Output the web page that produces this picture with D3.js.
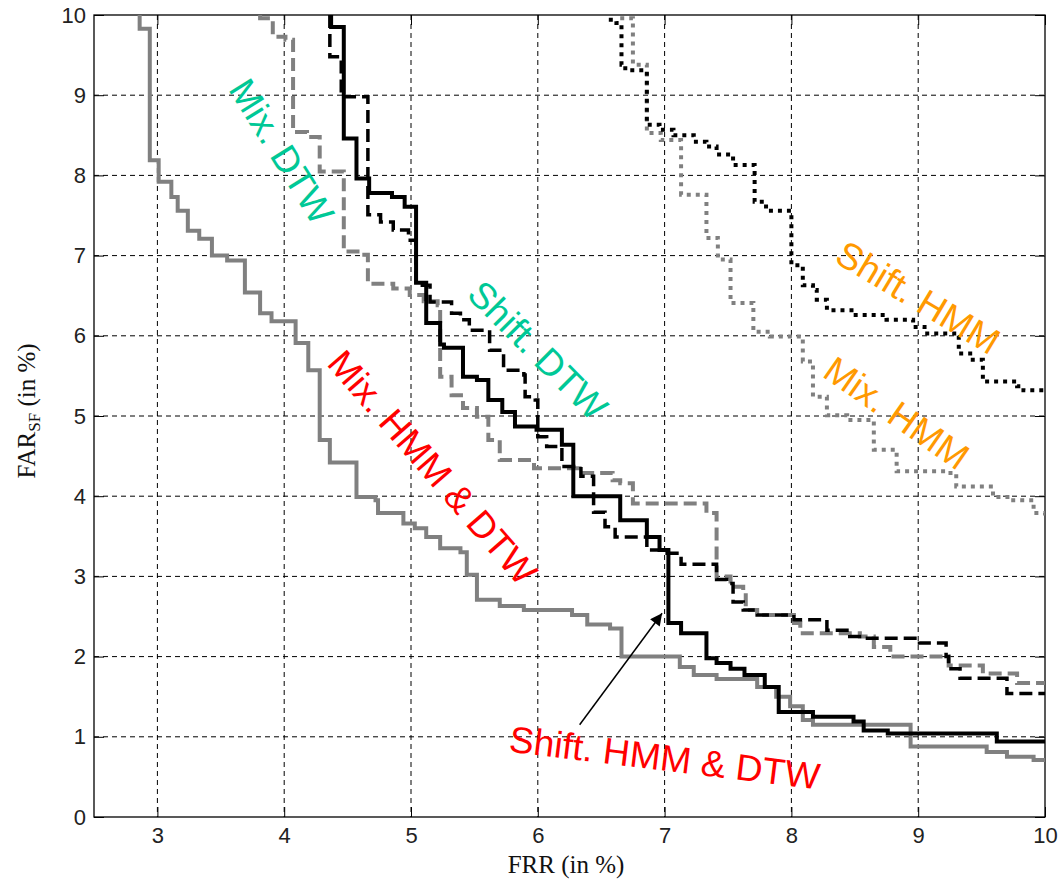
<!DOCTYPE html>
<html>
<head>
<meta charset="utf-8">
<script src="https://cdn.jsdelivr.net/npm/d3@7"></script>
<style>
  body { margin: 0; background: #fff; }
  .tick text { font-family: "Liberation Sans", Arial, sans-serif; font-size: 22px; fill: #222; }
  .axis-title { font-family: "Liberation Serif", "Times New Roman", serif; font-size: 25px; fill: #111; }
  .note { font-family: "Liberation Sans", Arial, sans-serif; font-size: 37px; }
</style>
</head>
<body>
<div id="chart"></div>
<script>
// tick values
const xTicks = [3, 4, 5, 6, 7, 8, 9, 10];
const yTicks = [0, 1, 2, 3, 4, 5, 6, 7, 8, 9, 10];

// DET staircases, [FRR, FAR] — value after each drop
const mixHmmDtw = [
  [2.86, 10], [2.86, 9.83], [2.94, 8.19], [3.01, 7.92], [3.11, 7.73], [3.16, 7.56],
  [3.24, 7.31], [3.33, 7.21], [3.43, 7.0], [3.55, 6.94], [3.69, 6.54], [3.81, 6.28],
  [3.90, 6.18], [4.09, 5.91], [4.19, 5.57], [4.28, 4.70], [4.36, 4.42], [4.57, 3.99],
  [4.72, 3.95], [4.74, 3.79], [4.94, 3.66], [5.03, 3.60], [5.12, 3.49], [5.23, 3.35],
  [5.39, 3.30], [5.44, 3.02], [5.52, 2.71], [5.70, 2.63], [5.89, 2.58], [6.27, 2.52],
  [6.39, 2.40], [6.57, 2.35], [6.66, 2.00], [7.12, 1.87], [7.23, 1.77], [7.41, 1.72],
  [7.73, 1.62], [7.88, 1.50], [7.99, 1.38], [8.09, 1.21], [8.17, 1.15], [8.94, 0.88],
  [9.54, 0.81], [9.70, 0.75], [9.91, 0.71], [10, 0.71]
];
const mixDtw = [
  [3.81, 10], [3.81, 9.96], [3.91, 9.73], [4.01, 9.69], [4.07, 8.54], [4.18, 8.48],
  [4.28, 8.05], [4.47, 7.05], [4.60, 7.01], [4.66, 6.65], [4.86, 6.59], [4.99, 6.51],
  [5.10, 6.43], [5.21, 6.38], [5.23, 5.49], [5.32, 5.26], [5.41, 5.10], [5.52, 4.99],
  [5.61, 4.70], [5.70, 4.45], [5.97, 4.35], [6.33, 4.29], [6.59, 4.20], [6.65, 4.16],
  [6.75, 3.91], [7.33, 3.79], [7.41, 3.00], [7.52, 2.87], [7.62, 2.79], [7.64, 2.58],
  [7.73, 2.52], [8.02, 2.42], [8.07, 2.29], [8.54, 2.25], [8.65, 2.12], [8.78, 2.00],
  [9.24, 1.89], [9.51, 1.79], [9.78, 1.67], [10, 1.67]
];
const shiftHmmDtw = [
  [4.37, 10], [4.37, 9.85], [4.47, 8.46], [4.57, 7.96], [4.67, 7.78], [4.85, 7.73],
  [4.95, 7.61], [5.04, 6.66], [5.12, 6.16], [5.23, 5.89], [5.26, 5.85], [5.41, 5.49],
  [5.52, 5.45], [5.61, 5.20], [5.72, 5.05], [5.82, 4.87], [5.99, 4.83], [6.19, 4.64],
  [6.28, 4.00], [6.65, 3.70], [6.86, 3.49], [6.96, 3.33], [7.03, 2.42], [7.13, 2.29],
  [7.33, 1.98], [7.41, 1.92], [7.52, 1.85], [7.63, 1.77], [7.79, 1.62], [7.90, 1.31],
  [8.17, 1.25], [8.49, 1.19], [8.57, 1.08], [8.76, 1.04], [9.62, 0.94], [10, 0.94]
];
const shiftDtw = [
  [4.36, 10], [4.36, 9.48], [4.45, 8.98], [4.66, 7.51], [4.76, 7.42], [4.86, 7.32],
  [4.98, 7.19], [5.04, 6.63], [5.15, 6.42], [5.32, 6.28], [5.39, 6.20], [5.46, 6.07],
  [5.62, 5.82], [5.70, 5.78], [5.73, 5.57], [5.89, 5.51], [5.90, 5.24], [5.98, 5.20],
  [6.00, 4.74], [6.07, 4.62], [6.19, 4.37], [6.34, 4.25], [6.44, 3.80], [6.53, 3.62],
  [6.61, 3.49], [6.86, 3.33], [7.02, 3.29], [7.13, 3.15], [7.41, 2.96], [7.49, 2.91],
  [7.54, 2.68], [7.62, 2.58], [7.73, 2.52], [8.02, 2.46], [8.28, 2.33], [8.46, 2.25],
  [8.57, 2.23], [9.01, 2.17], [9.22, 2.00], [9.24, 1.85], [9.33, 1.73], [9.70, 1.54],
  [10, 1.54]
];
const shiftHmm = [
  [6.56, 9.94], [6.62, 9.90], [6.66, 9.38], [6.69, 9.31], [6.86, 8.63], [6.96, 8.57],
  [7.07, 8.50], [7.23, 8.42], [7.33, 8.36], [7.41, 8.26], [7.54, 8.13], [7.71, 7.67],
  [7.80, 7.56], [8.00, 6.88], [8.09, 6.63], [8.17, 6.57], [8.20, 6.45], [8.28, 6.32],
  [8.49, 6.26], [8.75, 6.20], [8.96, 6.11], [9.05, 6.03], [9.32, 5.78], [9.41, 5.70],
  [9.51, 5.43], [9.78, 5.37], [9.83, 5.32], [10, 5.32]
];
const mixHmm = [
  [6.65, 9.96], [6.75, 9.88], [6.75, 9.38], [6.86, 8.53], [6.97, 8.44], [7.13, 7.76],
  [7.33, 7.22], [7.42, 6.95], [7.52, 6.41], [7.70, 6.05], [7.83, 5.99], [8.09, 5.68],
  [8.17, 5.24], [8.28, 5.01], [8.44, 4.95], [8.65, 4.58], [8.83, 4.31], [9.22, 4.29],
  [9.30, 4.12], [9.59, 3.99], [9.72, 3.95], [9.91, 3.79], [10, 3.70]
];

const series = [
  { data: mixHmmDtw,   color: '#808080', width: 4,   dash: null },
  { data: mixDtw,      color: '#808080', width: 4,   dash: '13,6' },
  { data: shiftDtw,    color: '#000',    width: 3.5, dash: '13,6' },
  { data: shiftHmmDtw, color: '#000',    width: 4,   dash: null },
  { data: mixHmm,      color: '#808080', width: 4,   dash: '4,5' },
  { data: shiftHmm,    color: '#000',    width: 4,   dash: '4,5' }
];

// labels placed at data coords (centre), angle in degrees
const notes = [
  { text: 'Mix. DTW',          x: 3.98, y: 8.30, angle: 58,  color: '#00c896' },
  { text: 'Shift. DTW',        x: 6.00, y: 5.82, angle: 45,  color: '#00c896' },
  { text: 'Mix. HMM & DTW',    x: 5.17, y: 4.36, angle: 49,  color: '#ff0000' },
  { text: 'Shift. HMM & DTW',  x: 7.00, y: 0.74, angle: 7,   color: '#ff0000' },
  { text: 'Shift. HMM',        x: 9.00, y: 6.48, angle: 31,  color: '#ff9900' },
  { text: 'Mix. HMM',          x: 8.83, y: 5.04, angle: 35,  color: '#ff9900' }
];
const arrowFrom = [6.33, 1.15];
const arrowTo = [6.98, 2.54];

const W = 1059, H = 882;
const margin = { top: 15, right: 14, bottom: 65, left: 94 };
const iw = W - margin.left - margin.right;
const ih = H - margin.top - margin.bottom;

const svg = d3.select('#chart').append('svg')
  .attr('width', W).attr('height', H);

const g = svg.append('g').attr('transform', `translate(${margin.left},${margin.top})`);

const x = d3.scaleLinear().domain([2.5, 10]).range([0, iw]);
const y = d3.scaleLinear().domain([0, 10]).range([ih, 0]);

// grid
g.append('g').selectAll('line.gx')
  .data(xTicks.filter(d => d < 10))
  .enter().append('line')
  .attr('x1', d => x(d)).attr('x2', d => x(d))
  .attr('y1', 0).attr('y2', ih)
  .attr('stroke', '#000').attr('stroke-width', 1)
  .attr('stroke-dasharray', '5,4');
g.append('g').selectAll('line.gy')
  .data(yTicks.filter(d => d > 0 && d < 10))
  .enter().append('line')
  .attr('x1', 0).attr('x2', iw)
  .attr('y1', d => y(d)).attr('y2', d => y(d))
  .attr('stroke', '#000').attr('stroke-width', 1)
  .attr('stroke-dasharray', '5,4');

// axes, ticks pointing inward
const tick = 10;
g.append('g').attr('transform', `translate(0,${ih})`)
  .call(d3.axisBottom(x).tickValues(xTicks).tickSizeInner(-tick).tickSizeOuter(0).tickPadding(10));
g.append('g')
  .call(d3.axisLeft(y).tickValues(yTicks).tickSizeInner(-tick).tickSizeOuter(0).tickPadding(8));
g.append('g')
  .call(d3.axisTop(x).tickValues(xTicks).tickSizeInner(-tick).tickSizeOuter(0).tickFormat(''));
g.append('g').attr('transform', `translate(${iw},0)`)
  .call(d3.axisRight(y).tickValues(yTicks).tickSizeInner(-tick).tickSizeOuter(0).tickFormat(''));
g.selectAll('.domain').remove();
g.selectAll('.tick line').attr('stroke', '#000').attr('stroke-width', 1);

// box
g.append('rect').attr('width', iw).attr('height', ih)
  .attr('fill', 'none').attr('stroke', '#000').attr('stroke-width', 1.3);

// curves
g.append('clipPath').attr('id', 'clip')
  .append('rect').attr('x', 0).attr('y', 0).attr('width', iw).attr('height', ih);

const line = d3.line()
  .x(d => x(d[0])).y(d => y(d[1]))
  .curve(d3.curveStepAfter);

g.append('g').attr('clip-path', 'url(#clip)')
  .selectAll('path.curve')
  .data(series)
  .enter().append('path')
  .attr('class', 'curve')
  .attr('d', d => line(d.data))
  .attr('fill', 'none')
  .attr('stroke', d => d.color)
  .attr('stroke-width', d => d.width)
  .attr('stroke-dasharray', d => d.dash)
  .attr('stroke-linejoin', 'miter');

// arrow
svg.append('defs').append('marker')
  .attr('id', 'head')
  .attr('viewBox', '0 0 10 10')
  .attr('refX', 10).attr('refY', 5)
  .attr('markerWidth', 18).attr('markerHeight', 12)
  .attr('markerUnits', 'userSpaceOnUse')
  .attr('orient', 'auto')
  .append('path').attr('d', 'M0,0L10,5L0,10Z').attr('fill', '#000');

g.append('line')
  .attr('x1', x(arrowFrom[0])).attr('y1', y(arrowFrom[1]))
  .attr('x2', x(arrowTo[0])).attr('y2', y(arrowTo[1]))
  .attr('stroke', '#000').attr('stroke-width', 1.5)
  .attr('marker-end', 'url(#head)');

// annotations
g.selectAll('text.note')
  .data(notes)
  .enter().append('text')
  .attr('class', 'note')
  .attr('transform', d => `translate(${x(d.x)},${y(d.y)}) rotate(${d.angle})`)
  .attr('text-anchor', 'middle')
  .attr('dy', '0.35em')
  .attr('fill', d => d.color)
  .text(d => d.text);

// axis titles
svg.append('text')
  .attr('class', 'axis-title')
  .attr('x', 566).attr('y', 873)
  .attr('text-anchor', 'middle')
  .text('FRR (in %)');

const yt = svg.append('text')
  .attr('class', 'axis-title')
  .attr('transform', 'translate(35,411) rotate(-90)')
  .attr('text-anchor', 'middle');
yt.append('tspan').text('FAR');
yt.append('tspan').attr('font-size', '17px').attr('dy', 5).text('SF');
yt.append('tspan').attr('dy', -5).text(' (in %)');
</script>
</body>
</html>
